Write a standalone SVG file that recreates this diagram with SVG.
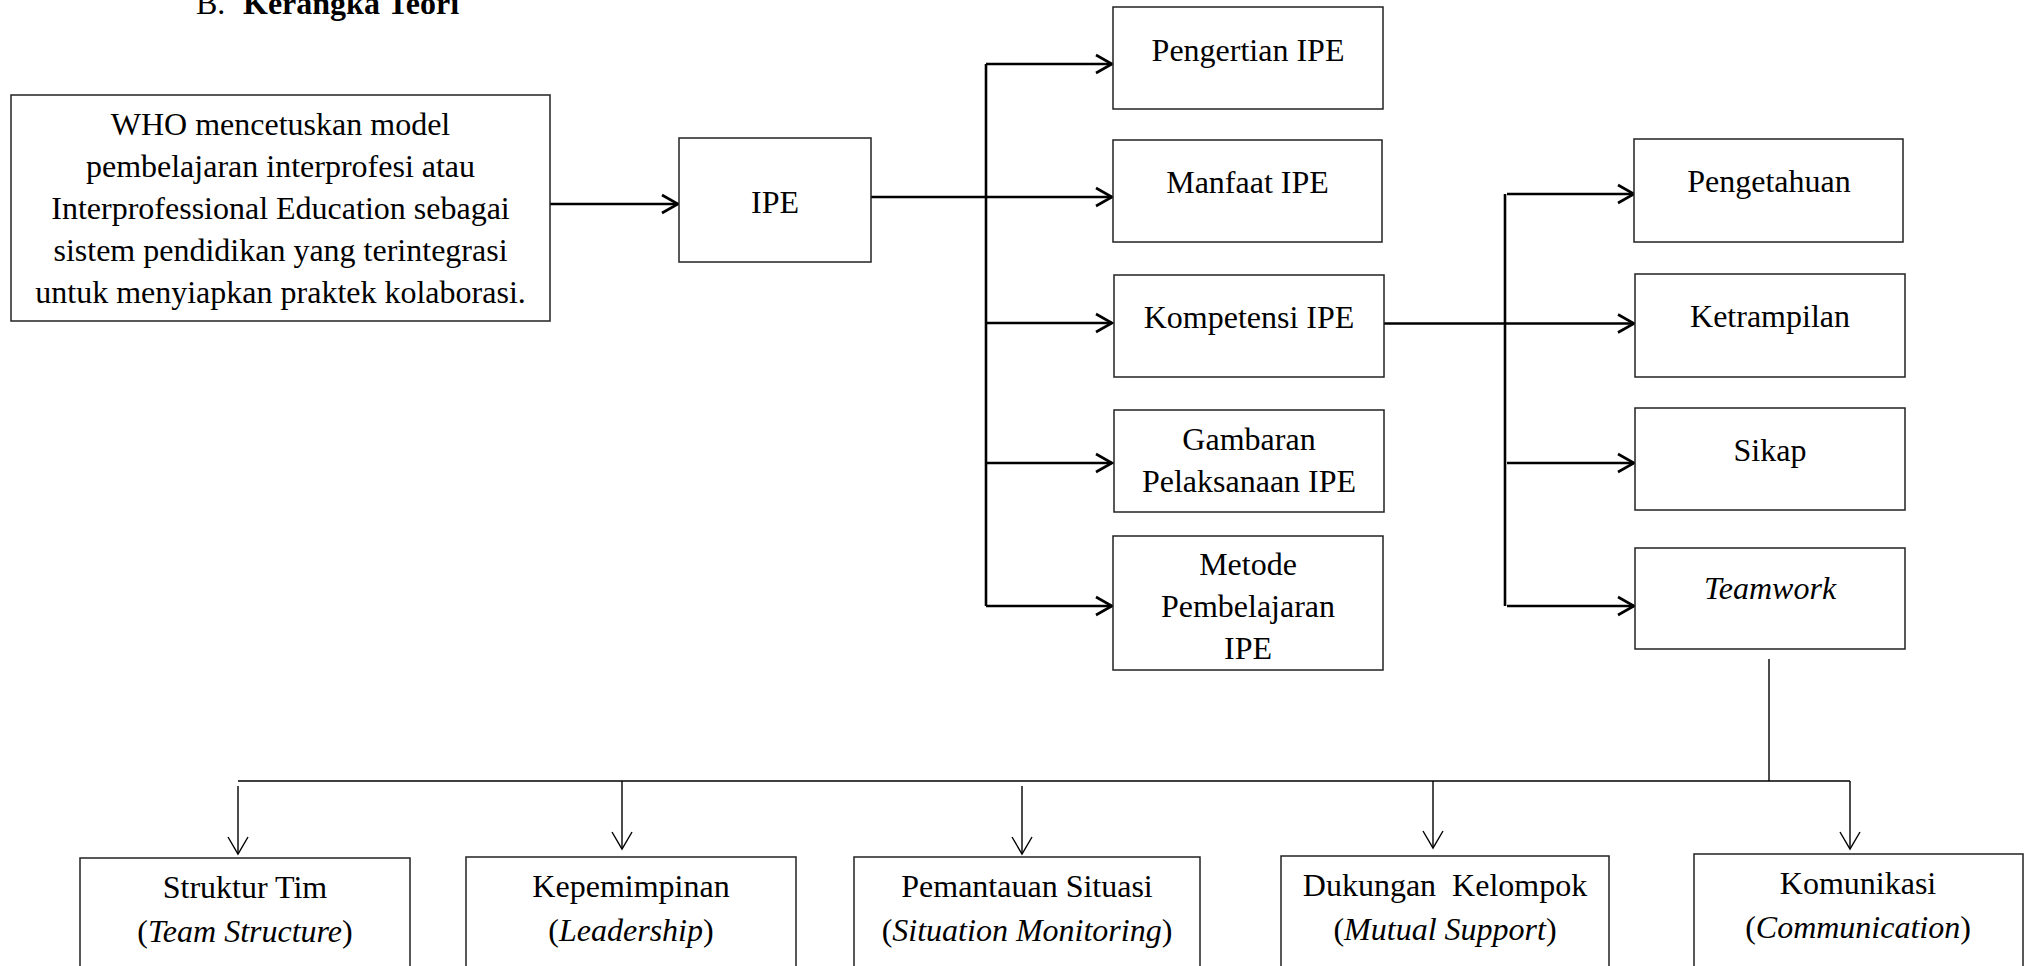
<svg xmlns="http://www.w3.org/2000/svg" width="2025" height="966" viewBox="0 0 2025 966">
<style>
  text { font-family: "Liberation Serif", "Times New Roman", serif; font-size: 32px; fill: #000; }
  .c { text-anchor: middle; }
  .box { fill: #fff; stroke: #222; stroke-width: 1.5; }
  .thick { fill: none; stroke: #000; stroke-width: 2.6; }
  .thin { fill: none; stroke: #000; stroke-width: 1.4; }
  .it { font-style: italic; }
</style>
<defs>
  <marker id="ah" viewBox="-20 -12 22 24" markerWidth="22" markerHeight="24" refX="0" refY="0" orient="auto" markerUnits="userSpaceOnUse" overflow="visible">
    <path d="M -16 -9 L 0 0 L -16 9" fill="none" stroke="#000" stroke-width="2.6"/>
  </marker>
  <marker id="ahs" viewBox="-20 -12 22 24" markerWidth="22" markerHeight="24" refX="0" refY="0" orient="auto" markerUnits="userSpaceOnUse" overflow="visible">
    <path d="M -17 -10 L 0 0 L -17 10" fill="none" stroke="#000" stroke-width="1.4"/>
  </marker>
</defs>

<g id="title">
  <text x="196" y="14">B.<tspan x="243" font-weight="bold">Kerangka Teori</tspan></text>
</g>

<g id="connectors">
  <line class="thick" x1="550" y1="204" x2="678" y2="204" marker-end="url(#ah)"/>
  <line class="thick" x1="871" y1="197" x2="1112" y2="197" marker-end="url(#ah)"/>
  <line class="thick" x1="986" y1="64" x2="986" y2="606"/>
  <line class="thick" x1="986" y1="64" x2="1112" y2="64" marker-end="url(#ah)"/>
  <line class="thick" x1="986" y1="323" x2="1112" y2="323" marker-end="url(#ah)"/>
  <line class="thick" x1="986" y1="463" x2="1112" y2="463" marker-end="url(#ah)"/>
  <line class="thick" x1="986" y1="606" x2="1112" y2="606" marker-end="url(#ah)"/>
  <line class="thick" x1="1384" y1="323.5" x2="1634" y2="323.5" marker-end="url(#ah)"/>
  <line class="thick" x1="1505" y1="194" x2="1505" y2="606"/>
  <line class="thick" x1="1507" y1="194" x2="1634" y2="194" marker-end="url(#ah)"/>
  <line class="thick" x1="1507" y1="463" x2="1634" y2="463" marker-end="url(#ah)"/>
  <line class="thick" x1="1507" y1="606" x2="1634" y2="606" marker-end="url(#ah)"/>
  <line class="thin" x1="1769" y1="659" x2="1769" y2="781" stroke-width="1.8"/>
  <line class="thin" x1="238" y1="781" x2="1850" y2="781" stroke-width="2.2"/>
  <line class="thin" x1="238" y1="786" x2="238" y2="854" marker-end="url(#ahs)"/>
  <line class="thin" x1="622" y1="781" x2="622" y2="849" marker-end="url(#ahs)"/>
  <line class="thin" x1="1022" y1="786" x2="1022" y2="854" marker-end="url(#ahs)"/>
  <line class="thin" x1="1433" y1="781" x2="1433" y2="848" marker-end="url(#ahs)"/>
  <line class="thin" x1="1850" y1="781" x2="1850" y2="849" marker-end="url(#ahs)" stroke="#444" stroke-width="1.1"/>
</g>

<g id="who">
  <rect class="box" x="11" y="95" width="539" height="226"/>
  <text class="c" x="280.5" y="135">WHO mencetuskan model</text>
  <text class="c" x="280.5" y="177">pembelajaran interprofesi atau</text>
  <text class="c" x="280.5" y="219">Interprofessional Education sebagai</text>
  <text class="c" x="280.5" y="261">sistem pendidikan yang terintegrasi</text>
  <text class="c" x="280.5" y="303">untuk menyiapkan praktek kolaborasi.</text>
</g>

<g id="ipe">
  <rect class="box" x="679" y="138" width="192" height="124"/>
  <text class="c" x="775" y="213">IPE</text>
</g>

<g id="pengertian">
  <rect class="box" x="1113" y="7" width="270" height="102"/>
  <text class="c" x="1248" y="61">Pengertian IPE</text>
</g>
<g id="manfaat">
  <rect class="box" x="1113" y="140" width="269" height="102"/>
  <text class="c" x="1247.5" y="193">Manfaat IPE</text>
</g>
<g id="kompetensi">
  <rect class="box" x="1114" y="275" width="270" height="102"/>
  <text class="c" x="1249" y="328">Kompetensi IPE</text>
</g>
<g id="gambaran">
  <rect class="box" x="1114" y="410" width="270" height="102"/>
  <text class="c" x="1249" y="450">Gambaran</text>
  <text class="c" x="1249" y="492">Pelaksanaan IPE</text>
</g>
<g id="metode">
  <rect class="box" x="1113" y="536" width="270" height="134"/>
  <text class="c" x="1248" y="575">Metode</text>
  <text class="c" x="1248" y="617">Pembelajaran</text>
  <text class="c" x="1248" y="659">IPE</text>
</g>

<g id="pengetahuan">
  <rect class="box" x="1634" y="139" width="269" height="103"/>
  <text class="c" x="1769" y="192">Pengetahuan</text>
</g>
<g id="ketrampilan">
  <rect class="box" x="1635" y="274" width="270" height="103"/>
  <text class="c" x="1770" y="327">Ketrampilan</text>
</g>
<g id="sikap">
  <rect class="box" x="1635" y="408" width="270" height="102"/>
  <text class="c" x="1770" y="461">Sikap</text>
</g>
<g id="teamwork">
  <rect class="box" x="1635" y="548" width="270" height="101"/>
  <text class="c it" x="1770" y="599">Teamwork</text>
</g>

<g id="struktur">
  <rect class="box" x="80" y="858" width="330" height="150"/>
  <text class="c" x="245" y="898">Struktur Tim</text>
  <text class="c" x="245" y="942">(<tspan class="it">Team Structure</tspan>)</text>
</g>
<g id="kepemimpinan">
  <rect class="box" x="466" y="857" width="330" height="150"/>
  <text class="c" x="631" y="897">Kepemimpinan</text>
  <text class="c" x="631" y="941">(<tspan class="it">Leadership</tspan>)</text>
</g>
<g id="pemantauan">
  <rect class="box" x="854" y="857" width="346" height="150"/>
  <text class="c" x="1027" y="897">Pemantauan Situasi</text>
  <text class="c" x="1027" y="941">(<tspan class="it">Situation Monitoring</tspan>)</text>
</g>
<g id="dukungan">
  <rect class="box" x="1281" y="856" width="328" height="150"/>
  <text class="c" x="1445" y="896" xml:space="preserve">Dukungan  Kelompok</text>
  <text class="c" x="1445" y="940">(<tspan class="it">Mutual Support</tspan>)</text>
</g>
<g id="komunikasi">
  <rect class="box" x="1694" y="854" width="329" height="150"/>
  <text class="c" x="1858" y="894">Komunikasi</text>
  <text class="c" x="1858" y="938">(<tspan class="it">Communication</tspan>)</text>
</g>
</svg>
